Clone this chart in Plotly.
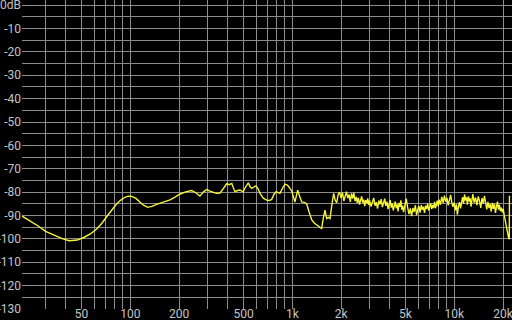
import plotly.graph_objects as go

# ---- data ----
freq_low = [21.5, 24, 27, 30, 34, 38, 42, 47, 52, 57, 62, 67, 72, 77, 82, 87, 92, 97, 102, 108,
            114, 120, 128, 136, 145, 155, 166, 176, 190, 203, 220, 239, 254, 269, 282, 296, 310,
            325, 340, 358, 376, 394, 408, 423, 433, 443, 460, 476, 487, 498, 515, 535, 548, 562,
            580, 597, 615, 632, 662, 695, 720, 746, 770, 793, 815, 839, 870, 901, 925, 945, 968,
            991, 1015, 1039, 1060, 1080, 1110, 1143, 1185, 1227, 1270, 1317, 1365, 1414, 1465,
            1518, 1555, 1592, 1610, 1630, 1670, 1710, 1750]
db_low = [-90.3, -92.2, -94.5, -96.8, -98.6, -99.9, -100.8, -100.5, -99.3, -97.8, -95.8, -93.2,
          -90.2, -87.4, -85.2, -83.5, -82.3, -81.7, -81.8, -82.6, -84.0, -85.5, -86.5, -86.1,
          -85.2, -84.5, -83.9, -83.3, -82.0, -80.8, -79.9, -79.3, -80.3, -81.7, -80.0, -78.9,
          -79.6, -80.2, -80.5, -80.4, -78.4, -76.4, -76.8, -76.3, -78.2, -79.8, -79.3, -79.1,
          -79.6, -79.8, -77.8, -76.0, -77.6, -78.4, -77.8, -77.3, -78.6, -80.5, -82.6, -83.4,
          -83.6, -83.1, -81.0, -79.9, -80.1, -80.5, -78.4, -76.6, -76.9, -77.4, -78.5, -79.3,
          -82.0, -84.2, -81.5, -79.2, -81.8, -84.2, -84.4, -85.0, -88.5, -91.8, -93.2, -94.1,
          -94.6, -95.6, -91.0, -87.7, -89.5, -91.3, -90.8, -91.3, -86.0]

freq_high = [1800, 1840, 1880, 1920, 1960, 2000, 2040, 2080, 2120, 2160, 2200, 2240, 2280, 2320,
             2360, 2400, 2440, 2480, 2520, 2560, 2600, 2640, 2680, 2720, 2760, 2800, 2840, 2880,
             2920, 2960,
             3000, 3060, 3120, 3180, 3240, 3300, 3360, 3420, 3480, 3540, 3600, 3660, 3720, 3780,
             3840, 3900, 3960, 4020, 4080, 4140, 4200, 4260, 4320, 4380, 4440, 4500, 4560, 4620,
             4680, 4740, 4800, 4860, 4920, 4980,
             5050, 5150, 5250, 5350, 5450, 5550, 5650, 5750, 5850, 5950, 6050, 6150, 6250, 6350,
             6450, 6550, 6650, 6750, 6850, 6950, 7050, 7150, 7250, 7350, 7450, 7550, 7650, 7750,
             7850, 7950,
             8050, 8210, 8370, 8530, 8690, 8850, 9010, 9170, 9330, 9490, 9650, 9810, 9970, 10130,
             10290, 10450, 10610, 10770, 10930, 11090, 11250, 11410, 11570, 11730, 11890, 12050,
             12210, 12370, 12530, 12690, 12850,
             13010, 13270, 13530, 13790, 14050, 14310, 14570, 14830, 15090, 15350, 15610, 15870,
             16130, 16390, 16650, 16910, 17170, 17430, 17690, 17950, 18210, 18470, 18730, 18990,
             19250, 19510, 19770,
             20030, 20290, 20550, 20810, 21070, 21330, 21590, 21850, 21900]
db_high = [-80.5, -83.5, -84.5, -81.0, -80.0, -82.5, -80.2, -83.8, -81.2, -79.8, -82.6, -81.0,
           -84.2, -80.5, -82.8, -80.3, -83.9, -82.0, -84.6, -82.4, -85.3, -83.0, -81.8, -84.5,
           -83.2, -86.0, -83.4, -84.8, -82.7, -85.5,
           -83.5, -86.2, -84.0, -82.5, -85.8, -84.3, -87.0, -83.6, -85.2, -83.0, -86.4, -84.5,
           -82.8, -85.9, -84.1, -87.3, -85.0, -83.4, -86.6, -84.8, -87.8, -85.5, -84.0, -86.9,
           -85.2, -88.2, -84.6, -86.3, -83.5, -87.5, -85.8, -88.6, -86.2, -84.4,
           -82.8, -86.5, -89.4, -87.0, -90.3, -86.8, -88.5, -85.6, -89.8, -87.4, -86.0, -88.8,
           -85.5, -87.6, -86.2, -88.9, -85.8, -87.2, -84.9, -87.9, -86.4, -84.7, -87.3, -85.5,
           -86.8, -84.2, -86.9, -85.0, -83.6, -86.1,
           -83.2, -85.4, -82.0, -84.6, -81.5, -84.1, -82.4, -85.7, -83.0, -81.2, -84.4, -86.3,
           -84.5, -87.8, -85.2, -89.6, -86.0, -84.3, -87.0, -84.8, -82.1, -84.9, -81.0, -83.6,
           -82.2, -85.4, -81.8, -84.0, -82.6, -86.2, -83.1,
           -80.8, -84.5, -82.3, -85.6, -81.9, -83.8, -86.7, -82.5, -84.9, -81.6, -85.3, -87.4,
           -84.2, -86.8, -85.1, -88.3, -84.6, -87.2, -85.0, -88.9, -86.3, -84.1, -87.5, -85.4,
           -88.1, -86.6, -88.7,
           -87.2, -89.5, -91.8, -94.2, -96.5, -98.0, -99.2, -100.2, -81.5]

freqs = freq_low + freq_high
levels = db_low + db_high

x_tick_vals = [50, 100, 200, 500, 1000, 2000, 5000, 10000, 20000]
x_tick_text = ["50", "100", "200", "500", "1k", "2k", "5k", "10k", "20k"]
x_minor_vals = [30, 40, 60, 70, 80, 90, 300, 400, 600, 700, 800, 900,
                3000, 4000, 6000, 7000, 8000, 9000]
y_tick_vals = [0, -10, -20, -30, -40, -50, -60, -70, -80, -90, -100, -110, -120, -130]
y_tick_text = ["0dB", "-10", "-20", "-30", "-40", "-50", "-60", "-70", "-80", "-90",
               "-100", "-110", "-120", "-130"]
y_minor_vals = [-5, -15, -25, -35, -45, -55, -65, -75, -85, -95, -105, -115, -125]

grid_col = "#8c8c8c"
text_col = "#c4c4c4"

fig = go.Figure()
fig.add_trace(go.Scatter(x=freqs, y=levels, mode="lines",
                         line=dict(color="#f4f43a", width=1.4), hoverinfo="skip"))

fig.update_layout(
    width=512, height=320,
    margin=dict(l=22, r=0, t=0, b=11),
    paper_bgcolor="black", plot_bgcolor="black",
    showlegend=False,
    font=dict(family="Roboto", size=12, color=text_col),
    xaxis=dict(type="log", range=[1.3315, 4.3562], tickmode="array",
               tickvals=x_tick_vals, ticktext=x_tick_text,
               showgrid=True, gridcolor=grid_col, gridwidth=1, zeroline=False,
               showline=False, ticks="", ticklabelstandoff=-4,
               ticklabeloverflow="allow",
               minor=dict(tickmode="array", tickvals=x_minor_vals, showgrid=True,
                          gridcolor=grid_col, gridwidth=1, ticks=""),
               automargin=False, fixedrange=True),
    yaxis=dict(range=[-130, 2.2], tickmode="array",
               tickvals=y_tick_vals, ticktext=y_tick_text,
               showgrid=True, gridcolor=grid_col, gridwidth=1, zeroline=False,
               showline=False, ticks="", ticklabelstandoff=0,
               ticklabeloverflow="allow",
               minor=dict(tickmode="array", tickvals=y_minor_vals, showgrid=True,
                          gridcolor=grid_col, gridwidth=1, ticks=""),
               automargin=False, fixedrange=True),
)

fig.write_html("out.html", config={"displayModeBar": False})
